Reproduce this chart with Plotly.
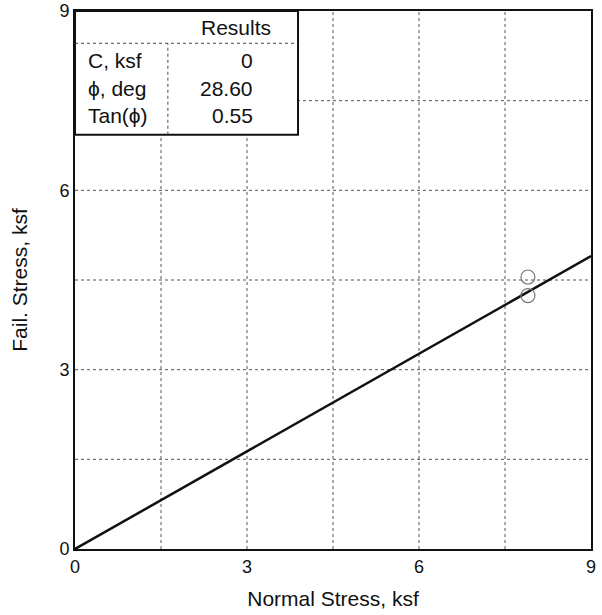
"""
Failure envelope: normal stress vs fail stress, with results box
"""

import plotly.graph_objects as go

# Test points (ksf)
normal_stress = [7.9, 7.9]
fail_stress = [4.55, 4.24]

# Fitted envelope end points
fit_x = [0.0, 9.0]
fit_y = [0.0, 4.9]

# Results table
result_labels = ['C, ksf', 'ϕ, deg', 'Tan(ϕ)']
result_values = ['0', '28.60', '0.55']

tick_vals = [0, 3, 6, 9]
grid_vals = [1.5, 3, 4.5, 6, 7.5]

FONT = 'Liberation Sans, Arial'

fig = go.Figure()

fig.add_trace(go.Scatter(
    x=fit_x, y=fit_y, mode='lines',
    line=dict(color='#111111', width=2.5),
    showlegend=False
))
fig.add_trace(go.Scatter(
    x=normal_stress, y=fail_stress, mode='markers',
    marker=dict(symbol='circle-open', size=14, color='#777777', line=dict(width=1.2)),
    showlegend=False
))

# dotted grid
for g in grid_vals:
    fig.add_shape(type='line', x0=g, x1=g, y0=0, y1=9, xref='x', yref='y',
                  line=dict(color='#555555', width=1, dash='dot'), layer='below')
    fig.add_shape(type='line', x0=0, x1=9, y0=g, y1=g, xref='x', yref='y',
                  line=dict(color='#555555', width=1, dash='dot'), layer='below')

# results box
tx1, ty0, hdr_y, col_x = 3.89, 6.93, 8.46, 1.62
fig.add_shape(type='rect', x0=0, x1=tx1, y0=ty0, y1=9, xref='x', yref='y',
              line=dict(color='#111111', width=2), fillcolor='white', layer='above')
fig.add_shape(type='line', x0=0, x1=tx1, y0=hdr_y, y1=hdr_y, xref='x', yref='y',
              line=dict(color='#444444', width=1, dash='dot'))
fig.add_shape(type='line', x0=col_x, x1=col_x, y0=ty0, y1=hdr_y, xref='x', yref='y',
              line=dict(color='#444444', width=1, dash='dot'))

font = dict(family=FONT, size=21, color='#111111')
fig.add_annotation(x=3.45, y=8.72, text='Results', showarrow=False, xanchor='right', font=font)
row_y = [8.18, 7.71, 7.26]
for lab, val, ry in zip(result_labels, result_values, row_y):
    fig.add_annotation(x=0.2, y=ry, text=lab, showarrow=False, xanchor='left', font=font)
    fig.add_annotation(x=3.14, y=ry, text=val, showarrow=False, xanchor='right', font=font)

axis_common = dict(
    range=[0, 9], tickvals=tick_vals, showgrid=False, zeroline=False,
    showline=True, linecolor='#111111', linewidth=2, mirror=True,
    ticks='', automargin=False, ticklabeloverflow='allow',
    tickfont=dict(family=FONT, size=18, color='#111111'),
    title_font=dict(family=FONT, size=21, color='#111111'),
)
fig.update_xaxes(title_text='Normal Stress, ksf', title_standoff=16, **axis_common)
fig.update_yaxes(title_text='Fail. Stress, ksf', title_standoff=26, **axis_common)

fig.update_layout(
    width=602, height=615,
    margin=dict(l=75, r=11, t=11, b=66),
    plot_bgcolor='white', paper_bgcolor='white',
)

fig.write_html('out.html', config={'displayModeBar': False},
               post_script="document.body.style.margin='0';")
